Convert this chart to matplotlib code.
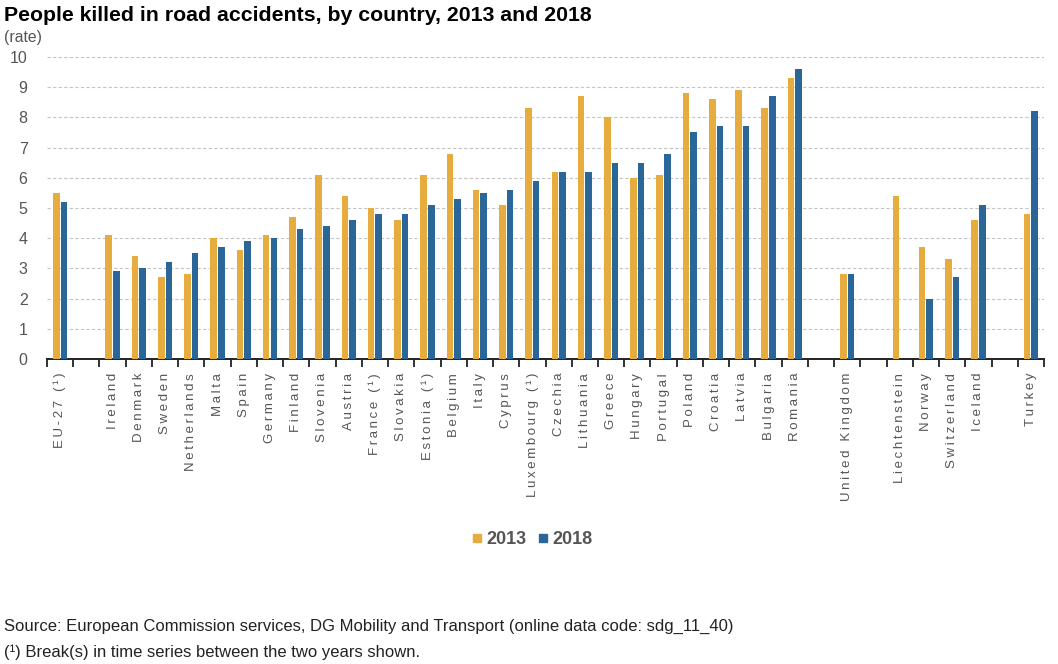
import numpy as np
import matplotlib
matplotlib.use("Agg")
import matplotlib.pyplot as plt
from matplotlib.lines import Line2D

# slots: None = empty gap between country groups
countries = ["EU-27 (¹)", None,
             "Ireland", "Denmark", "Sweden", "Netherlands", "Malta", "Spain",
             "Germany", "Finland", "Slovenia", "Austria", "France (¹)", "Slovakia",
             "Estonia (¹)", "Belgium", "Italy", "Cyprus", "Luxembourg (¹)", "Czechia",
             "Lithuania", "Greece", "Hungary", "Portugal", "Poland", "Croatia",
             "Latvia", "Bulgaria", "Romania", None,
             "United Kingdom", None,
             "Liechtenstein", "Norway", "Switzerland", "Iceland", None,
             "Turkey"]
nan = np.nan
rate_2013 = [5.5, nan,
             4.1, 3.4, 2.7, 2.8, 4.0, 3.6,
             4.1, 4.7, 6.1, 5.4, 5.0, 4.6,
             6.1, 6.8, 5.6, 5.1, 8.3, 6.2,
             8.7, 8.0, 6.0, 6.1, 8.8, 8.6,
             8.9, 8.3, 9.3, nan,
             2.8, nan,
             5.4, 3.7, 3.3, 4.6, nan,
             4.8]
rate_2018 = [5.2, nan,
             2.9, 3.0, 3.2, 3.5, 3.7, 3.9,
             4.0, 4.3, 4.4, 4.6, 4.8, 4.8,
             5.1, 5.3, 5.5, 5.6, 5.9, 6.2,
             6.2, 6.5, 6.5, 6.8, 7.5, 7.7,
             7.7, 8.7, 9.6, nan,
             2.8, nan,
             nan, 2.0, 2.7, 5.1, nan,
             8.2]

yellow = "#E6AC3E"
blue = "#2B6699"
grey = "#555555"

fig = plt.figure(figsize=(10.58, 6.64), dpi=100)
ax = fig.add_axes([0.0444, 0.4593, 0.9424, 0.4549])

x = np.arange(len(countries))
ax.bar(x - 0.145, rate_2013, width=0.25, color=yellow, zorder=3)
ax.bar(x + 0.145, rate_2018, width=0.25, color=blue, zorder=3)

ax.set_xlim(-0.5, len(countries) - 0.5)
ax.set_ylim(0, 10)
ax.set_yticks(range(0, 11))
ax.tick_params(axis="y", length=0, pad=14, labelsize=11.5, labelcolor=grey)
for lab in ax.get_yticklabels():
    lab.set_fontfamily("Liberation Sans")

ax.yaxis.grid(True, linestyle=(0, (3, 2)), color="#c4c4c4", linewidth=0.8, zorder=0)
ax.set_axisbelow(True)

for s in ["top", "right", "left"]:
    ax.spines[s].set_visible(False)
ax.spines["bottom"].set_linewidth(1.4)
ax.spines["bottom"].set_color("#222222")

# category labels at centres, tick marks at boundaries
labels = ["" if c is None else "\u2009".join(c) for c in countries]
ax.set_xticks(x)
ax.set_xticklabels(labels, rotation=90, fontsize=9.5, color=grey,
                   fontfamily=["Liberation Sans", "DejaVu Sans"], va="top", ha="center")
ax.tick_params(axis="x", which="major", length=0, pad=10)
ax.set_xticks(np.arange(len(countries) + 1) - 0.5, minor=True)
ax.tick_params(axis="x", which="minor", length=6, width=1.3, color="#222222", direction="out")

fig.text(0.004, 0.977, "People killed in road accidents, by country, 2013 and 2018",
         fontsize=15.3, fontweight="bold", fontfamily="Liberation Sans", va="center", ha="left")
fig.text(0.004, 0.944, "(rate)", fontsize=11.3, color=grey,
         fontfamily="Liberation Sans", va="center", ha="left")

handles = [Line2D([], [], marker="s", linestyle="", color=yellow, markersize=5.5),
           Line2D([], [], marker="s", linestyle="", color=blue, markersize=5.5)]
leg = fig.legend(handles, ["2013", "2018"], loc="center", bbox_to_anchor=(0.502, 0.187),
                 ncol=2, frameon=False, handletextpad=0.1, columnspacing=0.5,
                 handlelength=0.8,
                 prop={"family": ["Liberation Sans Narrow", "Liberation Sans"],
                       "weight": "bold", "size": 13})
for t in leg.get_texts():
    t.set_color(grey)

fig.text(0.004, 0.057,
         "Source: European Commission services, DG Mobility and Transport (online data code: sdg_11_40)",
         fontsize=12, fontfamily="Liberation Sans", color="#222222", va="center", ha="left")
fig.text(0.004, 0.018, "(¹) Break(s) in time series between the two years shown.",
         fontsize=12, fontfamily="Liberation Sans", color="#222222", va="center", ha="left")

fig.savefig("out.png", dpi=100)
